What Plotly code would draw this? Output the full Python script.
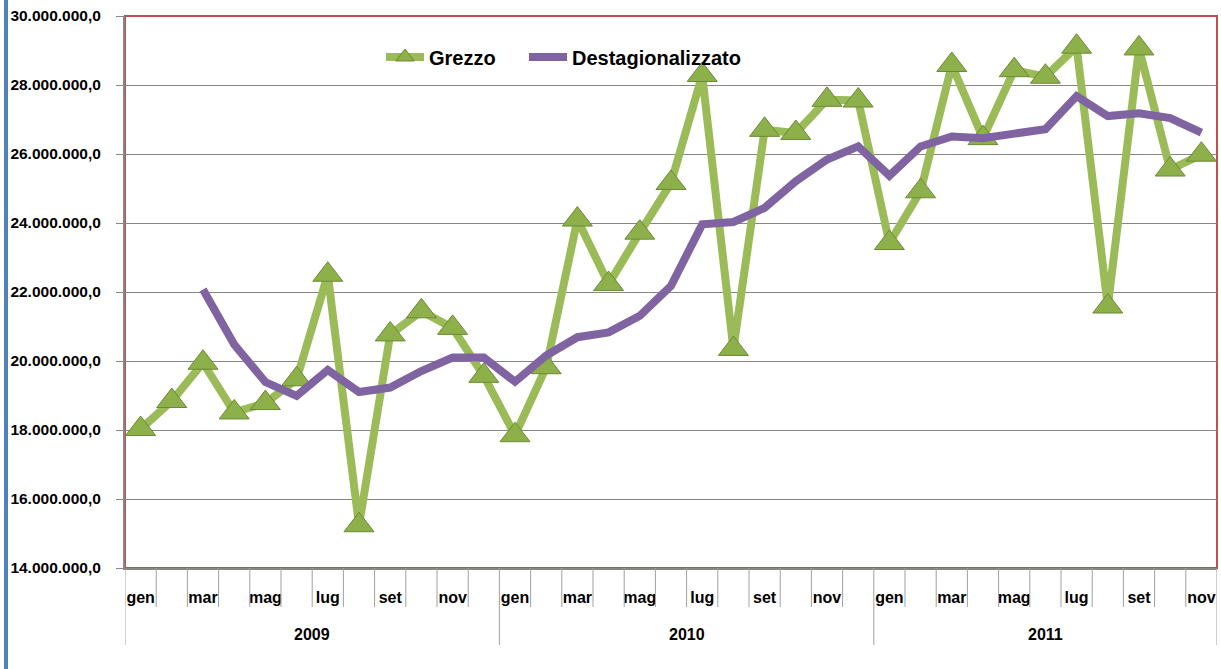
import plotly.graph_objects as go

months = ["gen", "feb", "mar", "apr", "mag", "giu", "lug", "ago", "set", "ott", "nov", "dic"]
years = ["2009", "2010", "2011"]
n_months = 35  # gen 2009 .. nov 2011

grezzo = [
    18.03, 18.84, 19.95, 18.51, 18.78, 19.47, 22.50, 15.24, 20.77, 21.44, 20.96, 19.57,
    17.85, 19.82, 24.10, 22.23, 23.72, 25.16, 28.29, 20.35, 26.70, 26.61, 27.57, 27.55,
    23.42, 24.92, 28.58, 26.46, 28.43, 28.24, 29.11, 21.58, 29.06, 25.55, 25.98,
]
destag = [
    None, None, 22.07, 20.48, 19.39, 18.99, 19.74, 19.10, 19.23, 19.71, 20.10, 20.10,
    19.40, 20.16, 20.69, 20.83, 21.31, 22.18, 23.96, 24.03, 24.44, 25.21, 25.84, 26.22,
    25.37, 26.22, 26.51, 26.46, 26.59, 26.72, 27.68, 27.10, 27.18, 27.04, 26.62,
]
grezzo = [v * 1e6 for v in grezzo]
destag = [v * 1e6 if v is not None else None for v in destag]

cats = []
for y in years:
    for m in months:
        cats.append(f"{m} {y}")
cats = cats[:n_months]

W, H = 1221, 669
ML, MR, MT, MB = 125, 4, 16, 101
PW = W - ML - MR
PH = H - MT - MB

def py(px):  # pixel y -> paper y
    return (H - MB - px) / PH

def pxx(px):  # pixel x -> paper x
    return (px - ML) / PW

FONT = "Liberation Sans, Arial, sans-serif"
LEGFONT = dict(family=FONT, size=20, color="black", weight="bold")

fig = go.Figure()
fig.add_trace(go.Scatter(
    x=cats, y=grezzo, name="Grezzo", mode="lines+markers",
    line=dict(color="#9BBB59", width=8),
    marker=dict(symbol="triangle-up", size=26, color="#8DB04A",
                line=dict(color="#6A8A35", width=1)),
    legend="legend",
))
fig.add_trace(go.Scatter(
    x=cats, y=destag, name="Destagionalizzato", mode="lines",
    line=dict(color="#8064A2", width=8), connectgaps=False,
    legend="legend2",
))

shapes = []
# plot area border
shapes.append(dict(type="rect", xref="paper", yref="paper", x0=0, x1=1, y0=0, y1=1,
                   line=dict(color="#C0504D", width=2), layer="below"))
# category boundary ticks
for k in range(n_months + 1):
    is_year = (k % 12 == 0) or k == n_months
    shapes.append(dict(type="line", xref="x", yref="paper", x0=k - 0.5, x1=k - 0.5,
                       y0=0, y1=py(645) if is_year else py(607),
                       line=dict(color="#A0A0A0", width=1)))
# left blue frame line
shapes.append(dict(type="line", xref="paper", yref="paper", x0=pxx(6), x1=pxx(6),
                   y0=py(669), y1=py(0), line=dict(color="#4F81BD", width=4)))

annotations = []
for i, y in enumerate(years):
    start = i * 12
    end = min(start + 12, n_months)
    annotations.append(dict(x=(start + end - 1) / 2, y=py(634), xref="x", yref="paper",
                            text=y, showarrow=False, yanchor="middle",
                            font=dict(family=FONT, size=16, color="black", weight="bold")))

fig.update_layout(
    width=W, height=H,
    margin=dict(l=ML, r=MR, t=MT, b=MB),
    paper_bgcolor="white", plot_bgcolor="white",
    separators=",.",
    showlegend=True,
    legend=dict(orientation="h", x=pxx(381), y=py(57), xanchor="left", yanchor="middle",
                bgcolor="rgba(0,0,0,0)", itemwidth=38, font=LEGFONT),
    legend2=dict(orientation="h", x=pxx(524), y=py(57), xanchor="left", yanchor="middle",
                 bgcolor="rgba(0,0,0,0)", itemwidth=38, font=LEGFONT),
    shapes=shapes, annotations=annotations,
)
fig.update_xaxes(
    type="category", categoryorder="array", categoryarray=cats,
    range=[-0.5, n_months - 0.5],
    tickvals=cats[::2], ticktext=[c.split(" ")[0] for c in cats[::2]],
    ticks="outside", ticklen=14, tickcolor="rgba(0,0,0,0)",
    showgrid=False, showline=True, linecolor="#868686", linewidth=2,
    tickfont=dict(family=FONT, size=16, color="black", weight="bold"),
)
fig.update_yaxes(
    range=[14e6, 30e6], dtick=2e6, tickformat=",.1f",
    showgrid=True, gridcolor="#868686", gridwidth=1,
    showline=True, linecolor="#868686", linewidth=2,
    ticks="outside", ticklen=7, tickcolor="#868686", ticklabelstandoff=12,
    tickfont=dict(family=FONT, size=15.5, color="black", weight="bold"),
    zeroline=False,
)

fig.write_html("out.html", config={"displayModeBar": False},
               post_script="document.body.style.margin='0';document.body.style.overflow='hidden';")
